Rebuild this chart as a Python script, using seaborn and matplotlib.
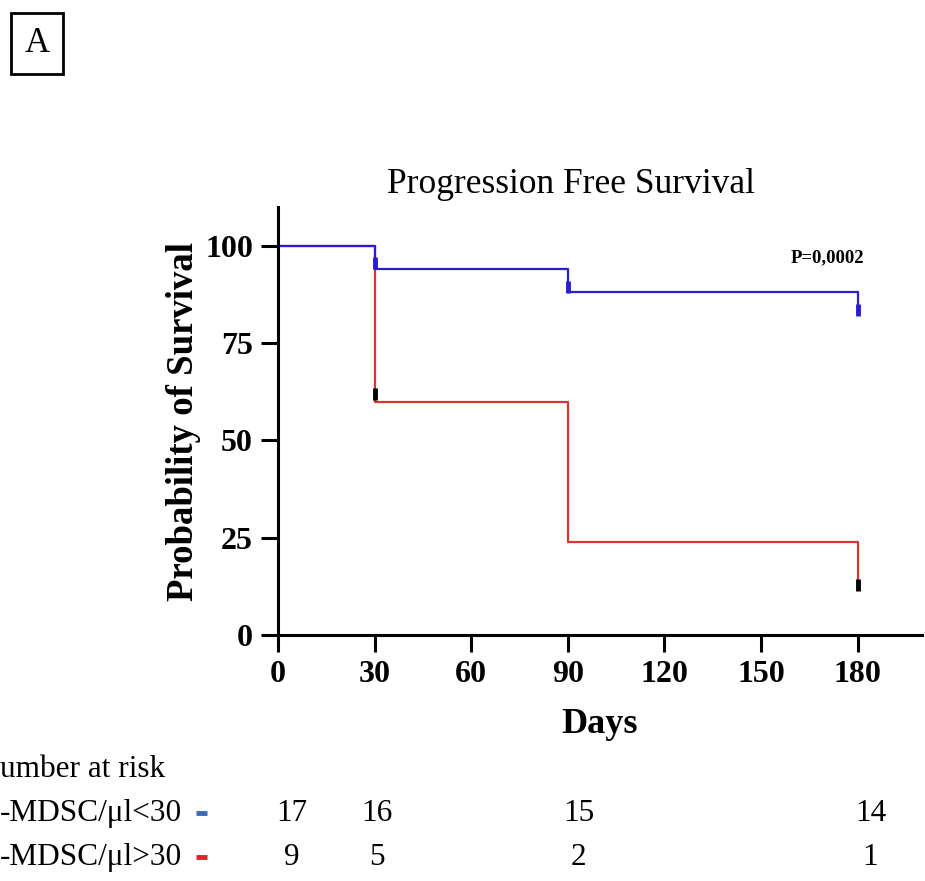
import numpy as np
import pandas as pd
import matplotlib
matplotlib.use("Agg")
import matplotlib.pyplot as plt
import matplotlib.transforms as mtransforms
from matplotlib.lines import Line2D
import seaborn as sns

# survival curves
days = [0, 30, 90, 180]
surv_low = [100, 94.1, 88.2, 82.4]     # M-MDSC/ul < 30
surv_high = [100, 60, 24, 12.5]        # M-MDSC/ul > 30

# censor marks
cens_low_x = [30, 90, 180]
cens_low_y = [95.5, 89.5, 83.5]
cens_high_x = [30, 180]
cens_high_y = [62, 12.8]

# number at risk table
risk_cols = [4.4, 30.8, 93.4, 184]
risk_low = [17, 16, 15, 14]
risk_high = [9, 5, 2, 1]
row_labels = ["-MDSC/\u03bcl<30", "-MDSC/\u03bcl>30"]

x_ticks = [0, 30, 60, 90, 120, 150, 180]
y_ticks = [0, 25, 50, 75, 100]

blue = "#2a1ecc"
red = "#d8352e"

sns.set_style("ticks")
plt.rcParams['font.family'] = ['Liberation Serif', 'DejaVu Serif']
plt.rcParams['text.color'] = 'black'
plt.rcParams['axes.labelcolor'] = 'black'
plt.rcParams['xtick.color'] = 'black'
plt.rcParams['ytick.color'] = 'black'
plt.rcParams['axes.edgecolor'] = 'black'

df = pd.DataFrame({
    "Days": days * 2,
    "Survival": surv_low + surv_high,
    "group": ["low"] * len(days) + ["high"] * len(days),
})

fig = plt.figure(figsize=(9.25, 8.81), dpi=100)
ax = fig.add_axes([0.3005, 0.2792, 0.6962, 0.4858])

sns.lineplot(data=df, x="Days", y="Survival", hue="group",
             palette={"low": blue, "high": red}, hue_order=["high", "low"],
             drawstyle="steps-post", linewidth=1.6, legend=False, ax=ax)

ax.plot(cens_low_x, cens_low_y, linestyle="none", marker="|", color=blue,
        markersize=9, markeredgewidth=3.5)
ax.plot(cens_high_x, cens_high_y, linestyle="none", marker="|", color="black",
        markersize=9, markeredgewidth=3.5)

ax.set_xlim(0, 200)
ax.set_ylim(0, 110)
ax.set_xticks(x_ticks)
ax.set_yticks(y_ticks)
ax.set_xticklabels([str(t) for t in x_ticks], fontsize=23, fontweight="bold")
ax.set_yticklabels([str(t) for t in y_ticks], fontsize=23, fontweight="bold")
ax.tick_params(axis="both", length=12, width=2.2, direction="out", pad=6)
for side in ["top", "right"]:
    ax.spines[side].set_visible(False)
for side in ["left", "bottom"]:
    ax.spines[side].set_linewidth(2.2)

ax.set_xlabel("Days", fontsize=26, fontweight="bold", labelpad=14)
ax.set_ylabel("Probability of Survival", fontsize=26.5, fontweight="bold", labelpad=3)
ax.text(0.455, 1.052, "Progression Free Survival", transform=ax.transAxes,
        fontsize=25.5, ha="center", va="center")
ax.text(182, 97, "P=0,0002", fontsize=13.5, fontweight="bold", ha="right", va="center")

# panel letter
fig.text(0.040, 0.951, "A", fontsize=25, ha="center", va="center",
         bbox=dict(boxstyle="square,pad=0.4", facecolor="white",
                   edgecolor="black", linewidth=2))

# number at risk
fig.text(0.0, 0.126, "umber at risk", fontsize=22.5, ha="left", va="center")
tr = mtransforms.blended_transform_factory(ax.transData, fig.transFigure)
row_y = [0.077, 0.027]
dash_cols = ["#3a6db5", "#e0232b"]
for lab, yy, dcol, counts in zip(row_labels, row_y, dash_cols, [risk_low, risk_high]):
    fig.text(0.0, yy, lab, fontsize=22.5, ha="left", va="center")
    fig.add_artist(Line2D([0.2115, 0.2235], [yy, yy], color=dcol, linewidth=3.5,
                          solid_capstyle="butt", transform=fig.transFigure))
    for cx, n in zip(risk_cols, counts):
        ax.text(cx, yy, str(n), transform=tr, fontsize=22.5, ha="center", va="center",
                clip_on=False)

fig.savefig("out.png", dpi=100)
